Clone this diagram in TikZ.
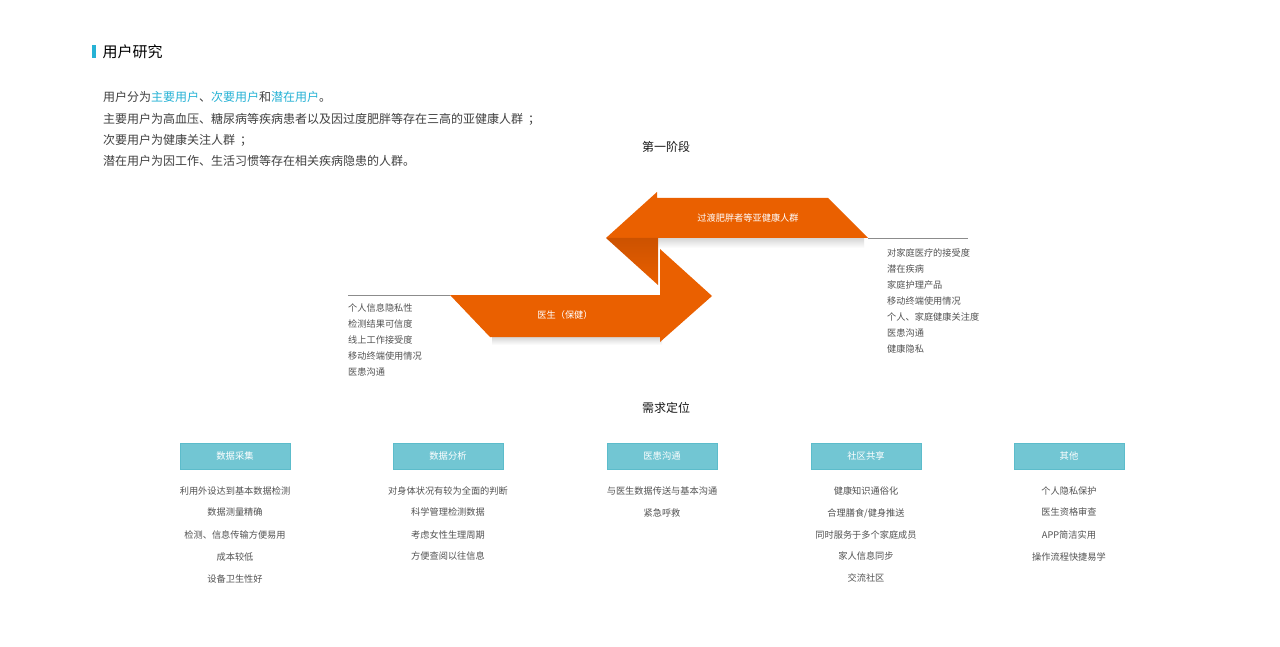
\documentclass[tikz,border=0pt]{standalone}
\usepackage{fontspec}
\setmainfont{Noto Sans CJK SC}
\usepackage{tikz}
\usetikzlibrary{positioning}
\definecolor{deeporange}{RGB}{234,96,0}
\definecolor{foldorange}{RGB}{204,82,0}
\definecolor{tealbox}{RGB}{114,198,211}
\definecolor{tealedge}{RGB}{92,188,203}
\definecolor{cyantext}{RGB}{38,178,213}
\def\hl(#1){\textcolor{cyantext}{#1}}
\tikzstyle{need} = [rectangle, minimum width=110pt, minimum height=26pt, draw=tealedge, fill=tealbox, text=white, font=\fontsize{9.3}{11}\selectfont]
\tikzstyle{item} = [text=black!68, font=\fontsize{9.2}{11}\selectfont, inner sep=0pt]
\tikzstyle{para} = [anchor=west, text=black!75, font=\fontsize{12}{14}\selectfont, inner sep=0pt]
\tikzstyle{stage} = [text=black!90, font=\fontsize{12}{14}\selectfont, inner sep=0pt]
\tikzstyle{softshadow} = [top color=black!16, bottom color=white]

\begin{document}
\begin{tikzpicture}[x=1pt,y=-1pt]
\useasboundingbox [fill=white] (0,0) rectangle (1280,647);
% heading and intro
\fill[cyantext] (92,45) rectangle (95.5,58.5);
\node (head) [anchor=west, inner sep=0pt, font=\fontsize{15}{18}\selectfont] at (102.5,52) {用户研究};
\node (p1) [para] at (103,97) {用户分为\hl(主要用户)、\hl(次要用户)和\hl(潜在用户)。};
\node (p2) [para] at (103,119) {主要用户为高血压、糖尿病等疾病患者以及因过度肥胖等存在三高的亚健康人群\hspace{5pt}；};
\node (p3) [para] at (103,140) {次要用户为健康关注人群\hspace{5pt}；};
\node (p4) [para] at (103,161) {潜在用户为因工作、生活习惯等存在相关疾病隐患的人群。};
\node (stage1) [stage] at (666,147) {第一阶段};
% the two bands
\shade[softshadow] (636,238) rectangle (864,248);
\shade[softshadow] (492,337) rectangle (662,345);
\fill[deeporange] (606,238) -- (657,192) -- (657,198) -- (828,198) -- (868,238) -- cycle;
\shade[top color=foldorange, bottom color=deeporange] (606,238) -- (658,238) -- (658,285) -- cycle;
\fill[deeporange] (450,295) -- (660,295) -- (660,249) -- (712,296) -- (660,342) -- (660,337) -- (490,337) -- cycle;
\node (upper) [text=white, font=\fontsize{9.2}{11}\selectfont] at (748,218) {过渡肥胖者等亚健康人群};
\node (lower) [text=white, font=\fontsize{9.2}{11}\selectfont] at (565,315) {医生（保健）};
\coordinate (rline) at (968,238);
\coordinate (lline) at (348,295);
\draw[black!45, line width=0.8pt] (868,238) -- (rline);
\draw[black!45, line width=0.8pt] (lline) -- (450,295);
% right list
\node (r1) [item, anchor=west] at (887,253) {对家庭医疗的接受度};
\node (r2) [item, anchor=west] at (887,269) {潜在疾病};
\node (r3) [item, anchor=west] at (887,285) {家庭护理产品};
\node (r4) [item, anchor=west] at (887,301) {移动终端使用情况};
\node (r5) [item, anchor=west] at (887,317) {个人、家庭健康关注度};
\node (r6) [item, anchor=west] at (887,333) {医患沟通};
\node (r7) [item, anchor=west] at (887,349) {健康隐私};
% left list
\node (l1) [item, anchor=west] at (348,308) {个人信息隐私性};
\node (l2) [item, anchor=west] at (348,324) {检测结果可信度};
\node (l3) [item, anchor=west] at (348,340) {线上工作接受度};
\node (l4) [item, anchor=west] at (348,356) {移动终端使用情况};
\node (l5) [item, anchor=west] at (348,372) {医患沟通};
% needs
\node (stage2) [stage] at (666,408) {需求定位};
\node (n1) [need] at (235,456) {数据采集};
\node (n2) [need] at (448,456) {数据分析};
\node (n3) [need] at (662,456) {医患沟通};
\node (n4) [need] at (866,456) {社区共享};
\node (n5) [need] at (1069,456) {其他};
\node (a1) [item] at (235,491) {利用外设达到基本数据检测};
\node (a2) [item] at (235,512) {数据测量精确};
\node (a3) [item] at (235,535) {检测、信息传输方便易用};
\node (a4) [item] at (235,557) {成本较低};
\node (a5) [item] at (235,579) {设备卫生性好};
\node (b1) [item] at (448,491) {对身体状况有较为全面的判断};
\node (b2) [item] at (448,512) {科学管理检测数据};
\node (b3) [item] at (448,535) {考虑女性生理周期};
\node (b4) [item] at (448,556) {方便查阅以往信息};
\node (c1) [item] at (662,491) {与医生数据传送与基本沟通};
\node (c2) [item] at (662,513) {紧急呼救};
\node (d1) [item] at (866,491) {健康知识通俗化};
\node (d2) [item] at (866,513) {合理膳食/健身推送};
\node (d3) [item] at (866,535) {同时服务于多个家庭成员};
\node (d4) [item] at (866,556) {家人信息同步};
\node (d5) [item] at (866,578) {交流社区};
\node (e1) [item] at (1069,491) {个人隐私保护};
\node (e2) [item] at (1069,512) {医生资格审查};
\node (e3) [item] at (1069,535) {APP简洁实用};
\node (e4) [item] at (1069,557) {操作流程快捷易学};
\end{tikzpicture}
\end{document}
